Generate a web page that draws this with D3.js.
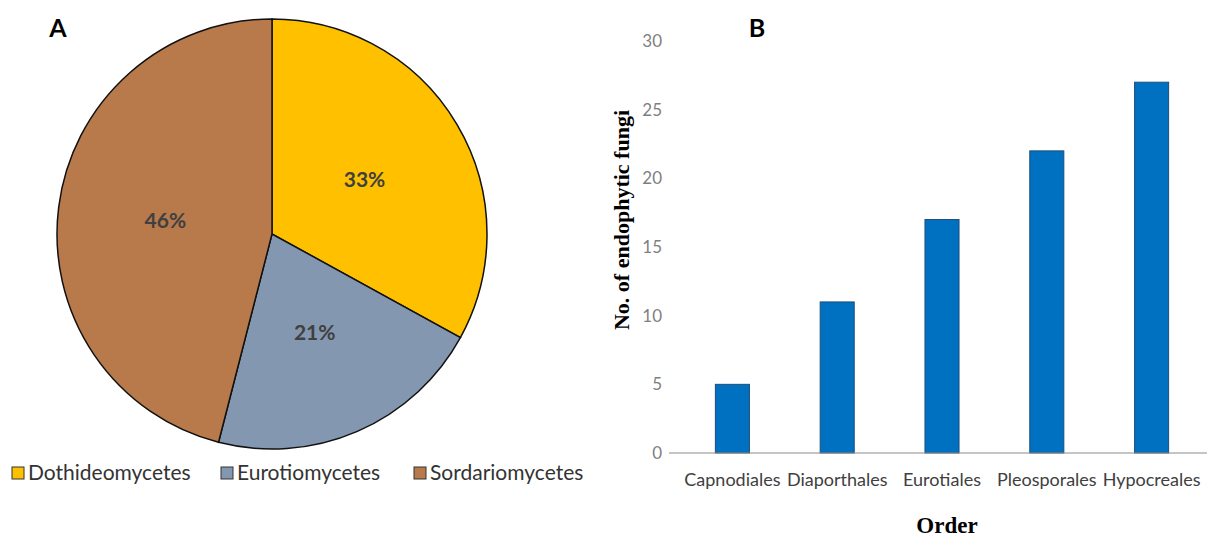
<!DOCTYPE html>
<html>
<head>
<meta charset="utf-8">
<script src="https://cdn.jsdelivr.net/npm/d3@7"></script>
<style>
body { margin: 0; background: #fff; }
text { font-family: Lato, "Open Sans", sans-serif; }
.serif { font-family: "Liberation Serif", "DejaVu Serif", serif; font-weight: bold; }
</style>
</head>
<body>
<div id="chart"></div>
<script>
var width = 1207, height = 537

// Pie data
var classes = ["Dothideomycetes", "Eurotiomycetes", "Sordariomycetes"]
var classPct = [33, 21, 46]
var classColors = ["#FFC000", "#8497B0", "#B87A4A"]

// Bar data
var orders = ["Capnodiales", "Diaporthales", "Eurotiales", "Pleosporales", "Hypocreales"]
var orderCounts = [5, 11, 17, 22, 27]
var yTicks = [0, 5, 10, 15, 20, 25, 30]

var svg = d3.select("#chart").append("svg")
    .attr("width", width)
    .attr("height", height)

// ---- Panel A: pie
var cx = 272, cy = 234, R = 215
var pie = d3.pie().sort(null).value(function(d) { return d.v })
var arcs = pie(classes.map(function(c, i) { return {name: c, v: classPct[i], color: classColors[i]} }))
var arc = d3.arc().innerRadius(0).outerRadius(R)
var labelArc = d3.arc().innerRadius(R * 0.5).outerRadius(R * 0.5)

var gp = svg.append("g").attr("transform", "translate(" + cx + "," + cy + ")")
gp.selectAll("path")
    .data(arcs)
    .enter().append("path")
    .attr("d", arc)
    .attr("fill", function(d) { return d.data.color })
    .attr("stroke", "#111")
    .attr("stroke-width", 1.5)

gp.selectAll("text.pct")
    .data(arcs)
    .enter().append("text")
    .attr("class", "pct")
    .attr("transform", function(d) { return "translate(" + labelArc.centroid(d) + ")" })
    .attr("text-anchor", "middle")
    .attr("dy", "0.35em")
    .attr("fill", "#404040")
    .style("font-size", "21px")
    .style("font-weight", "bold")
    .text(function(d) { return d.data.v + "%" })

svg.append("text")
    .attr("x", 58).attr("y", 37)
    .attr("text-anchor", "middle")
    .style("font-size", "25px")
    .style("font-weight", "bold")
    .text("A")

// legend
var legX = [12, 221, 414]
var leg = svg.append("g").selectAll("g")
    .data(classes)
    .enter().append("g")
    .attr("transform", function(d, i) { return "translate(" + legX[i] + ",467)" })
leg.append("rect")
    .attr("width", 12).attr("height", 12)
    .attr("fill", function(d, i) { return classColors[i] })
    .attr("stroke", "#333")
    .attr("stroke-width", 1)
leg.append("text")
    .attr("x", 16).attr("y", 6)
    .attr("dy", "0.35em")
    .attr("fill", "#333")
    .style("font-size", "21px")
    .text(function(d) { return d })

// ---- Panel B: bars
var x = d3.scaleBand().domain(orders).range([680, 1204]).paddingInner(0.675).paddingOuter(0.3375)
var y = d3.scaleLinear().domain([0, 30]).range([453, 41])

svg.append("g")
    .selectAll("rect")
    .data(orders)
    .enter().append("rect")
    .attr("x", function(d) { return x(d) })
    .attr("y", function(d, i) { return y(orderCounts[i]) })
    .attr("width", x.bandwidth())
    .attr("height", function(d, i) { return y(0) - y(orderCounts[i]) })
    .attr("fill", "#0070C0")
    .attr("stroke", "#1F4E79")
    .attr("stroke-width", 1)

var yAxis = svg.append("g")
    .attr("transform", "translate(668,0)")
    .call(d3.axisLeft(y).tickValues(yTicks).tickSize(0).tickPadding(6))
yAxis.select(".domain").remove()
yAxis.selectAll("text").attr("fill", "#7f7f7f").style("font-size", "17px").style("font-family", "Lato, sans-serif")

svg.append("line")
    .attr("x1", 669).attr("x2", 1207)
    .attr("y1", y(0)).attr("y2", y(0))
    .attr("stroke", "#8c8c8c")
    .attr("stroke-width", 1.2)

var xAxis = svg.append("g")
    .attr("transform", "translate(0," + y(0) + ")")
    .call(d3.axisBottom(x).tickSize(0).tickPadding(20))
xAxis.select(".domain").remove()
xAxis.selectAll("text").attr("fill", "#404040").style("font-size", "18px").style("font-family", "Lato, sans-serif")

svg.append("text")
    .attr("class", "serif")
    .attr("x", 947).attr("y", 533)
    .attr("text-anchor", "middle")
    .style("font-size", "23px")
    .text("Order")

svg.append("text")
    .attr("class", "serif")
    .attr("transform", "translate(629,220) rotate(-90)")
    .attr("text-anchor", "middle")
    .style("font-size", "22px")
    .text("No. of endophytic fungi")

svg.append("text")
    .attr("x", 757).attr("y", 37)
    .attr("text-anchor", "middle")
    .style("font-size", "25px")
    .style("font-weight", "bold")
    .text("B")
</script>
</body>
</html>
